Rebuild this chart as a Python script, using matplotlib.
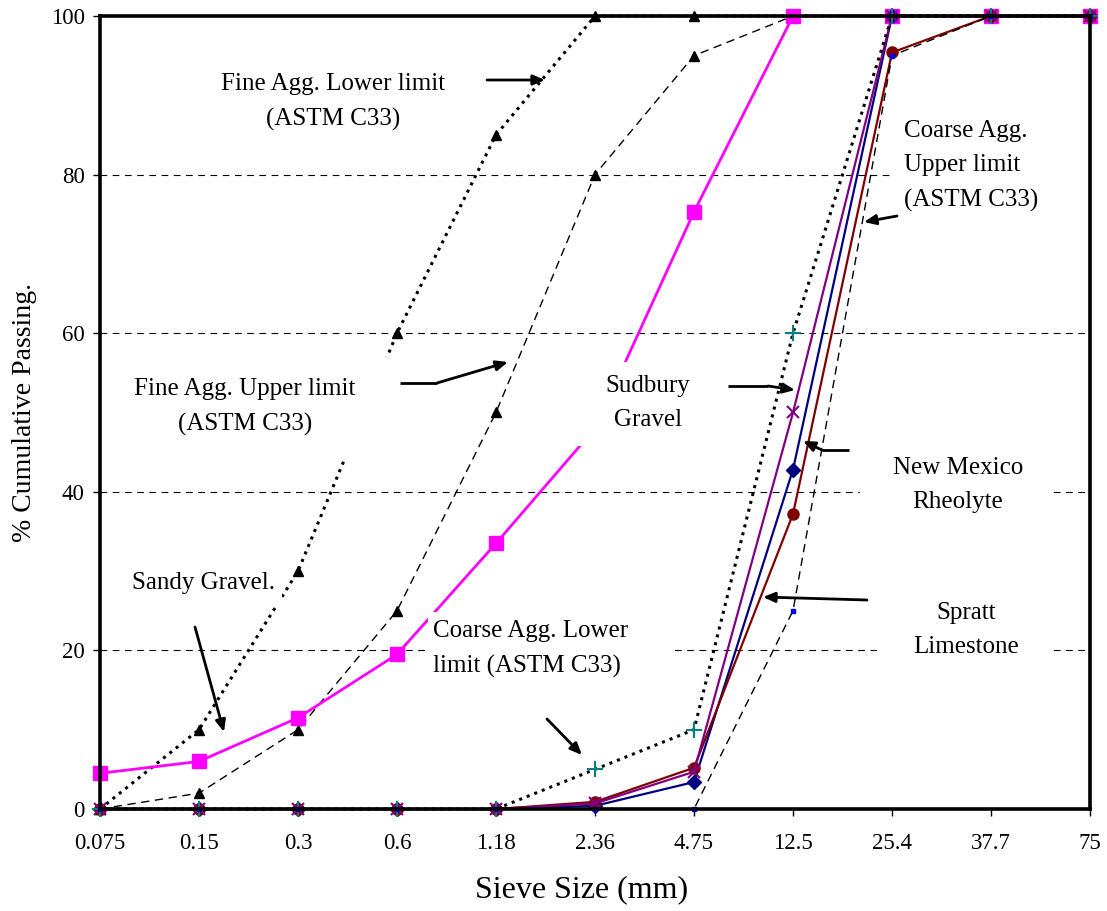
import matplotlib
matplotlib.use("Agg")
import matplotlib.pyplot as plt
from matplotlib.patches import Rectangle

plt.rcParams['font.family'] = ['Liberation Serif', 'DejaVu Serif']

sieve = ['0.075', '0.15', '0.3', '0.6', '1.18', '2.36', '4.75', '12.5', '25.4', '37.7', '75']

fine_lower = [0, 10, 30, 60, 85, 100, 100, 100, 100, 100, 100]
fine_upper = [0, 2, 10, 25, 50, 80, 95, 100, 100, 100, 100]
coarse_lower = [0, 0, 0, 0, 0, 5, 10, 60, 100, 100, 100]
coarse_upper = [0, 0, 0, 0, 0, 0, 0, 25, 95, 100, 100]
sandy_gravel = [4.5, 6, 11.5, 19.5, 33.5, 48, 75.3, 100, 100, 100, 100]
sudbury_gravel = [0, 0, 0, 0, 0, 0.7, 4.7, 50, 100, 100, 100]
new_mexico = [0, 0, 0, 0, 0, 0.4, 3.4, 42.8, 100, 100, 100]
spratt = [0, 0, 0, 0, 0, 0.9, 5.2, 37.2, 95.4, 100, 100]

# pixel -> data helpers (for labels and arrows only)
X0, DX = 100, 99.0
Y0, DY = 809, 7.93


def px(x, y):
    return ((x - X0) / DX, (Y0 - y) / DY)


def label(ax, text, tx, ty, box, ha='center'):
    x0, y0 = px(box[0], box[3])
    x1, y1 = px(box[2], box[1])
    ax.add_patch(Rectangle((x0, y0), x1 - x0, y1 - y0, facecolor='white',
                           edgecolor='none', zorder=6, clip_on=False))
    ax.text(*px(tx, ty), text, ha=ha, va='center', fontsize=18,
            linespacing=1.7, zorder=7)


def arrow(ax, pts):
    for a, b in zip(pts[:-2], pts[1:-1]):
        ax.plot(*zip(px(*a), px(*b)), color='black', lw=2, zorder=8,
                solid_capstyle='butt')
    ax.annotate('', xy=px(*pts[-1]), xytext=px(*pts[-2]), zorder=8,
                arrowprops=dict(arrowstyle='-|>,head_length=0.7,head_width=0.3',
                                color='black', lw=2, shrinkA=0, shrinkB=0))


fig = plt.figure(figsize=(11.07, 9.11), dpi=100)
ax = fig.add_axes([100 / 1107, 1 - 809 / 911, 990 / 1107, 793 / 911])

x = list(range(len(sieve)))

ax.plot(x, fine_upper, color='black', lw=1, ls=(0, (6, 4)), marker='^',
        ms=7, zorder=3, clip_on=False)
ax.plot(x, fine_lower, color='black', lw=2.2, ls=':', marker='^',
        ms=7, zorder=3, clip_on=False)
ax.plot(x, sandy_gravel, color='#FF00FF', lw=2, marker='s', ms=10,
        zorder=3.5, clip_on=False)
ax.plot(x, new_mexico, color='#000080', lw=1.6, marker='D', ms=7,
        zorder=4, clip_on=False)
ax.plot(x, spratt, color='#800000', lw=1.6, marker='o', ms=8,
        zorder=4.1, clip_on=False)
ax.plot(x, sudbury_gravel, color='#800080', lw=1.6, marker='x', ms=9,
        mew=1.5, zorder=4.2, clip_on=False)
ax.plot(x, coarse_lower, color='black', lw=2.2, ls=':', marker='+', ms=11,
        mew=1.5, mec='#008080', zorder=4.3, clip_on=False)
ax.plot(x, coarse_upper, color='black', lw=1, ls=(0, (6, 4)), marker='s',
        ms=3.5, mfc='#0000FF', mec='#0000FF', zorder=4.4, clip_on=False)

ax.set_xlim(0, len(sieve) - 1)
ax.set_ylim(0, 100)
ax.set_xticks(x)
ax.set_xticklabels(sieve)
ax.set_yticks(range(0, 101, 20))
ax.tick_params(axis='both', direction='out', length=5, width=1,
               labelsize=16.5, pad=12)
ax.tick_params(axis='y', pad=6)
ax.yaxis.grid(True, color='black', lw=0.8, ls=(0, (6, 5)), zorder=0)
ax.set_axisbelow(True)
for s in ax.spines.values():
    s.set_linewidth(2.6)
    s.set_zorder(9)

ax.set_xlabel('Sieve Size (mm)', fontsize=23)
ax.xaxis.set_label_coords(0.486, -0.083)
ax.set_ylabel('% Cumulative Passing.', fontsize=20, labelpad=10)

label(ax, 'Fine Agg. Lower limit\n(ASTM C33)', 333, 102, (205, 62, 465, 142))
label(ax, 'Fine Agg. Upper limit\n(ASTM C33)', 245, 407, (115, 357, 388, 458))
label(ax, 'Sudbury\nGravel', 648, 403, (575, 362, 725, 446))
label(ax, 'New Mexico\nRheolyte', 958, 485, (860, 448, 1052, 522))
label(ax, 'Spratt\nLimestone', 966, 630, (877, 592, 1052, 668))
label(ax, 'Coarse Agg.\nUpper limit\n(ASTM C33)', 904, 166,
      (893, 108, 1085, 218), ha='left')
label(ax, 'Sandy Gravel.', 203, 583, (118, 562, 282, 605))
label(ax, 'Coarse Agg. Lower\nlimit (ASTM C33)', 433, 649,
      (428, 612, 670, 690), ha='left')

arrow(ax, [(487, 80), (545, 80)])
arrow(ax, [(400, 383), (437, 383), (508, 362)])
arrow(ax, [(728, 386), (768, 386), (795, 390)])
arrow(ax, [(849, 450), (822, 450), (803, 441)])
arrow(ax, [(867, 600), (763, 597)])
arrow(ax, [(897, 216), (864, 222)])
arrow(ax, [(195, 627), (224, 732)])
arrow(ax, [(547, 719), (582, 755)])

fig.savefig('out.png', dpi=100)
